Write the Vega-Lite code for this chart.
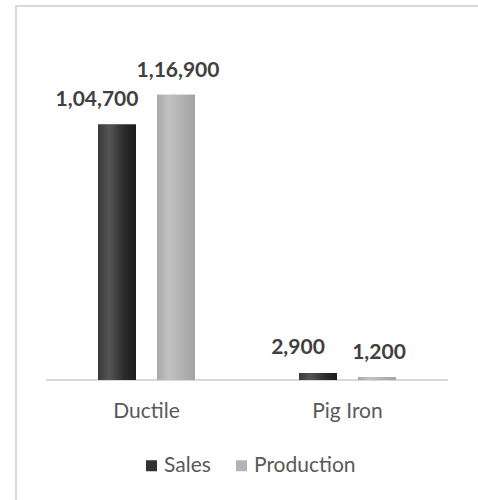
{
  "$schema": "https://vega.github.io/schema/vega-lite/v6.json",
  "width": 462,
  "height": 494,
  "autosize": {"type": "none"},
  "padding": {"left": 16, "top": 6, "right": 0, "bottom": 0},
  "background": "white",
  "config": {
    "view": {"stroke": "#d9d9d9", "strokeWidth": 2, "strokeDash": [462, 956, 494, 1]},
    "font": "Lato"
  },
  "data": {
    "values": [
      {"cat": "Ductile", "series": "Sales", "value": 104700, "label": "1,04,700"},
      {"cat": "Ductile", "series": "Production", "value": 116900, "label": "1,16,900"},
      {"cat": "Pig Iron", "series": "Sales", "value": 2900, "label": "2,900"},
      {"cat": "Pig Iron", "series": "Production", "value": 1200, "label": "1,200"}
    ]
  },
  "encoding": {
    "x": {
      "field": "cat",
      "type": "nominal",
      "sort": ["Ductile", "Pig Iron"],
      "scale": {"paddingInner": 0, "paddingOuter": 0.1493},
      "axis": {
        "title": null,
        "orient": "bottom",
        "offset": -89,
        "domain": false,
        "ticks": false,
        "tickSize": 0,
        "labelPadding": 0,
        "labelBaseline": "middle",
        "labelAngle": 0,
        "labelFont": "Lato",
        "labelFontSize": 21,
        "labelColor": "#595959",
        "grid": false
      }
    }
  },
  "layer": [
    {
      "transform": [{"filter": "datum.series === 'Sales'"}],
      "mark": {"type": "bar", "fill": null, "stroke": "#d9d9d9", "strokeWidth": 2},
      "encoding": {
        "y": {"datum": 0, "type": "quantitative", "scale": {"domain": [-49180, 153279], "nice": false, "zero": false}, "axis": null},
        "y2": {"datum": 0}
      }
    },
    {
      "mark": {"type": "bar"},
      "encoding": {
        "xOffset": {"field": "series", "type": "nominal", "sort": ["Sales", "Production"], "scale": {"domain": ["Sales", "Production"], "paddingInner": 0.356, "paddingOuter": 0.881}},
        "y": {"field": "value", "type": "quantitative", "stack": null, "scale": {"domain": [-49180, 153279], "nice": false, "zero": false}, "axis": null},
        "y2": {"datum": 0},
        "color": {
          "field": "series",
          "type": "nominal",
          "scale": {"domain": ["Sales", "Production"], "range": ["#333333", "#b3b3b3"]},
          "legend": {
            "title": null,
            "orient": "none",
            "legendX": 125,
            "legendY": 449,
            "direction": "horizontal",
            "padding": 0,
            "symbolType": "square",
            "symbolSize": 121,
            "symbolStrokeWidth": 0,
            "labelFont": "Lato",
            "labelFontSize": 21,
            "labelColor": "#595959",
            "labelOffset": 2,
            "columnPadding": 20
          }
        }
      }
    },
    {
      "transform": [{"filter": "datum.series === 'Sales'"}],
      "mark": {
        "type": "bar",
        "fill": {
          "gradient": "linear", "x1": 0, "x2": 1, "y1": 0, "y2": 0,
          "stops": [
            {"offset": 0, "color": "#3a3a3a"},
            {"offset": 0.3, "color": "#555555"},
            {"offset": 0.7, "color": "#2a2a2a"},
            {"offset": 1, "color": "#1c1c1c"}
          ]
        }
      },
      "encoding": {
        "xOffset": {"field": "series", "type": "nominal", "scale": {"domain": ["Sales", "Production"]}},
        "y": {"field": "value", "type": "quantitative", "stack": null},
        "y2": {"datum": 0}
      }
    },
    {
      "transform": [{"filter": "datum.series === 'Production'"}],
      "mark": {
        "type": "bar",
        "fill": {
          "gradient": "linear", "x1": 0, "x2": 1, "y1": 0, "y2": 0,
          "stops": [
            {"offset": 0, "color": "#a9a9a9"},
            {"offset": 0.3, "color": "#c2c2c2"},
            {"offset": 0.7, "color": "#b0b0b0"},
            {"offset": 1, "color": "#a3a3a3"}
          ]
        }
      },
      "encoding": {
        "xOffset": {"field": "series", "type": "nominal", "scale": {"domain": ["Sales", "Production"]}},
        "y": {"field": "value", "type": "quantitative", "stack": null},
        "y2": {"datum": 0}
      }
    },
    {
      "transform": [{"filter": "datum.series === 'Sales'"}],
      "mark": {"type": "text", "baseline": "middle", "align": "center", "dx": -20, "dy": -25, "font": "Lato", "fontWeight": "bold", "fontSize": 21, "color": "#404040"},
      "encoding": {
        "xOffset": {"field": "series", "type": "nominal", "scale": {"domain": ["Sales", "Production"]}},
        "y": {"field": "value", "type": "quantitative", "stack": null},
        "text": {"field": "label"}
      }
    },
    {
      "transform": [{"filter": "datum.series === 'Production'"}],
      "mark": {"type": "text", "baseline": "middle", "align": "center", "dx": 2, "dy": -24, "font": "Lato", "fontWeight": "bold", "fontSize": 21, "color": "#404040"},
      "encoding": {
        "xOffset": {"field": "series", "type": "nominal", "scale": {"domain": ["Sales", "Production"]}},
        "y": {"field": "value", "type": "quantitative", "stack": null},
        "text": {"field": "label"}
      }
    }
  ]
}
